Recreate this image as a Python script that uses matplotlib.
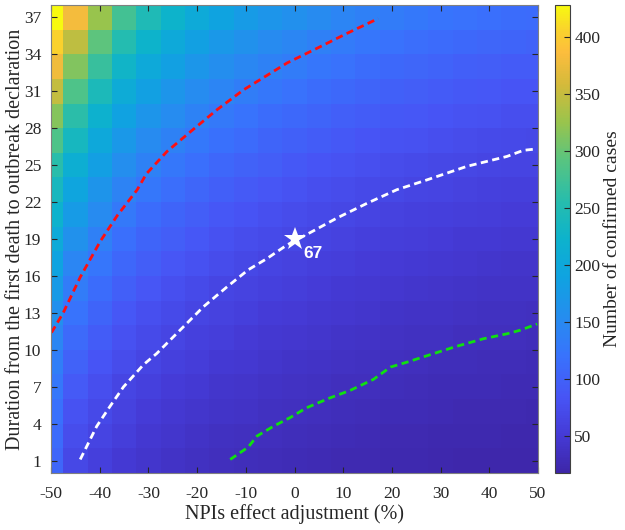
import numpy as np
import matplotlib.pyplot as plt
from matplotlib.colors import LinearSegmentedColormap, Normalize

# NPIs effect adjustment (%), cell centres
npi_adj = [-50, -45, -40, -35, -30, -25, -20, -15, -10, -5, 0,
           5, 10, 15, 20, 25, 30, 35, 40, 45, 50]
# duration from first death to outbreak declaration (days), cell centres
duration = [1, 3, 5, 7, 9, 11, 13, 15, 17, 19, 21, 23, 25, 27, 29, 31, 33, 35, 37]

# confirmed cases, one list per NPI column, from duration 1 up to 37
cases_by_col = [
    [106, 112, 118, 126, 135, 146, 160, 175, 190, 205, 222, 238, 258, 285, 315, 348, 378, 405, 428],
    [68, 75, 82, 91, 100, 110, 121, 133, 146, 161, 177, 195, 214, 236, 259, 285, 314, 345, 380],
    [58, 64, 70, 77, 85, 94, 103, 113, 125, 137, 151, 166, 183, 201, 221, 243, 268, 295, 324],
    [50, 55, 60, 66, 73, 80, 88, 97, 107, 117, 129, 142, 156, 172, 189, 208, 229, 252, 277],
    [44, 48, 53, 59, 65, 71, 78, 86, 95, 104, 114, 126, 139, 152, 168, 185, 203, 223, 246],
    [40, 44, 48, 53, 59, 65, 71, 78, 86, 95, 104, 115, 126, 139, 153, 168, 185, 203, 224],
    [37, 40, 44, 49, 54, 59, 65, 72, 79, 87, 96, 105, 116, 127, 140, 154, 169, 186, 205],
    [34, 37, 41, 45, 50, 55, 60, 66, 73, 80, 88, 97, 107, 118, 130, 143, 157, 173, 190],
    [32, 35, 39, 43, 47, 51, 57, 62, 69, 75, 83, 91, 100, 111, 122, 134, 147, 162, 178],
    [30, 33, 36, 40, 44, 48, 53, 59, 64, 71, 78, 86, 95, 104, 114, 126, 139, 152, 168],
    [28.5, 31, 35, 38, 42, 46, 51, 56, 61, 67, 74, 82, 90, 99, 109, 120, 132, 145, 159],
    [27, 30, 33, 36, 40, 44, 48, 53, 58, 64, 70, 77, 85, 94, 103, 113, 125, 137, 151],
    [26, 28, 31, 34, 38, 42, 46, 50, 55, 61, 67, 74, 81, 89, 98, 108, 119, 131, 144],
    [25, 27, 30, 33, 36, 40, 44, 48, 53, 58, 64, 70, 78, 85, 94, 103, 114, 125, 138],
    [24, 26, 29, 31, 35, 38, 42, 46, 51, 56, 61, 68, 74, 82, 90, 99, 109, 120, 132],
    [23, 25, 28, 30, 33, 37, 40, 44, 49, 54, 59, 65, 72, 79, 87, 95, 105, 115, 127],
    [22, 24, 27, 29, 32, 36, 39, 43, 47, 52, 57, 63, 69, 76, 84, 92, 102, 112, 123],
    [21, 23, 26, 28, 31, 34, 38, 42, 46, 50, 55, 61, 67, 74, 81, 89, 98, 108, 119],
    [21, 23, 25, 28, 30, 33, 37, 40, 45, 49, 54, 59, 65, 72, 79, 87, 96, 105, 116],
    [20, 22, 25, 27, 30, 33, 36, 39, 43, 48, 53, 58, 64, 70, 77, 85, 93, 103, 113],
    [20, 22, 24, 27, 29, 32, 35, 39, 43, 47, 52, 57, 63, 69, 76, 84, 92, 101, 111],
]

# dashed iso-lines
red_x = [-49.9, -47.5, -44.0, -39.9, -36.4, -32.3, -30.4, -26.2, -21.4, -15.9,
         -10.5, -6.4, -1.5, 4.7, 10.8, 17.2]
red_y = [11.4, 13.0, 15.9, 18.8, 20.9, 23.0, 24.3, 26.1, 27.7, 29.5,
         31.1, 32.1, 33.3, 34.5, 35.7, 36.9]
white_x = [-44.0, -40.6, -37.9, -35.1, -31.0, -28.3, -23.5, -18.7, -13.9, -9.5,
           -5.7, -1.6, 3.6, 8.7, 14.9, 21.0, 27.2, 35.4, 43.6, 47.0, 49.4]
white_y = [1.1, 3.8, 5.4, 7.0, 8.8, 9.7, 11.6, 13.5, 15.1, 16.5,
           17.4, 18.5, 19.6, 20.7, 21.9, 23.0, 23.8, 24.9, 25.7, 26.2, 26.3]
green_x = [-13.2, -9.5, -7.7, -4.3, -0.9, 2.5, 7.3, 11.4, 16.2, 19.7, 23.1,
           28.6, 33.4, 38.8, 43.6, 46.4, 49.8]
green_y = [1.1, 2.1, 3.0, 3.8, 4.5, 5.3, 6.1, 6.7, 7.6, 8.6, 9.0,
           9.7, 10.3, 10.9, 11.3, 11.6, 12.1]

star_x, star_y, star_label = 0, 19, "67"

cbar_ticks = [50, 100, 150, 200, 250, 300, 350, 400]

# parula-like colormap
parula = LinearSegmentedColormap.from_list("parula_like", [
    (0.00, (0.24, 0.15, 0.66)),
    (0.08, (0.27, 0.23, 0.84)),
    (0.16, (0.28, 0.33, 0.96)),
    (0.25, (0.22, 0.45, 0.99)),
    (0.33, (0.15, 0.55, 0.94)),
    (0.42, (0.06, 0.64, 0.88)),
    (0.50, (0.05, 0.70, 0.80)),
    (0.58, (0.15, 0.74, 0.68)),
    (0.67, (0.35, 0.77, 0.50)),
    (0.75, (0.60, 0.77, 0.30)),
    (0.83, (0.83, 0.73, 0.23)),
    (0.90, (0.99, 0.74, 0.24)),
    (0.95, (0.98, 0.83, 0.17)),
    (1.00, (0.97, 0.98, 0.06)),
])

plt.rcParams['font.family'] = ['Liberation Serif', 'DejaVu Serif']
plt.rcParams['axes.unicode_minus'] = False

cases = np.array(cases_by_col, dtype=float).T
norm = Normalize(vmin=18, vmax=428)

fig = plt.figure(figsize=(6.25, 5.3), dpi=100)
ax = fig.add_axes([51 / 625, 57 / 530, 487 / 625, 468 / 530])
cax = fig.add_axes([555 / 625, 57 / 530, 15 / 625, 468 / 530])

mesh = ax.pcolormesh(npi_adj, duration, cases, shading='nearest', cmap=parula, norm=norm)

dash = dict(linestyle=(0, (2.6, 1.6)), linewidth=2.0)
ax.plot(red_x, red_y, color='#ff1010', **dash)
ax.plot(white_x, white_y, color='white', **dash)
ax.plot(green_x, green_y, color='#10e010', **dash)

ax.plot(star_x, star_y, marker='*', color='white', markersize=17, markeredgewidth=0)
ax.text(star_x + 1.9, star_y - 0.6, star_label, color='white', fontsize=12.5,
        fontweight='bold', family=['Liberation Sans', 'DejaVu Sans'], va='top', ha='left')

ax.set_xlim(-50, 50)
ax.set_ylim(0, 38)
ax.set_xticks(range(-50, 51, 10))
ax.set_yticks(range(1, 38, 3))
ax.tick_params(direction='in', length=4, width=0.8, color='#262626',
               top=True, right=True, labelsize=12.5, labelcolor='#262626')
ax.tick_params(axis='x', pad=9)
ax.tick_params(axis='y', pad=7)
for s in ax.spines.values():
    s.set_color('#808080')
    s.set_linewidth(0.8)
ax.set_xlabel("NPIs effect adjustment (%)", fontsize=14.5, color='#262626', labelpad=2)
ax.set_ylabel("Duration from the first death to outbreak declaration", fontsize=14.5,
              color='#262626', labelpad=-1)

cb = fig.colorbar(mesh, cax=cax, ticks=cbar_ticks)
cb.outline.set_edgecolor('#404040')
cb.outline.set_linewidth(0.8)
cax.tick_params(direction='in', length=4, width=0.8, color='#262626',
                labelsize=12.5, labelcolor='#262626', pad=3)
cb.set_label("Number of confirmed cases", fontsize=14, color='#262626', labelpad=3)

fig.savefig("out.png", dpi=100)
